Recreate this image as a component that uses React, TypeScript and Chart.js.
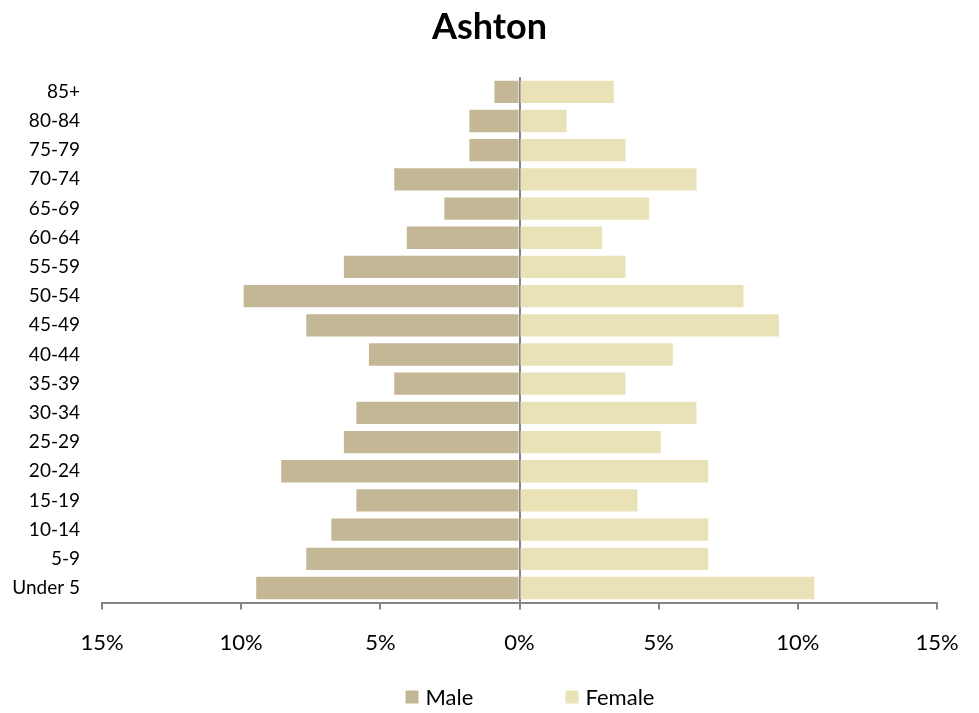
import React, { useEffect, useRef } from "react";
import { Chart, registerables } from "chart.js";

Chart.register(...registerables);

const TITLE = "Ashton";
const AGE_GROUPS = ["85+", "80-84", "75-79", "70-74", "65-69", "60-64", "55-59", "50-54", "45-49", "40-44", "35-39", "30-34", "25-29", "20-24", "15-19", "10-14", "5-9", "Under 5"];
const MALE = [0.9, 1.8, 1.8, 4.5, 2.7, 4.05, 6.31, 9.91, 7.66, 5.41, 4.5, 5.86, 6.31, 8.56, 5.86, 6.76, 7.66, 9.46];
const FEMALE = [3.39, 1.69, 3.81, 6.36, 4.66, 2.97, 3.81, 8.05, 9.32, 5.51, 3.81, 6.36, 5.08, 6.78, 4.24, 6.78, 6.78, 10.59];
const X_TICKS = [-15, -10, -5, 0, 5, 10, 15];
const SERIES_NAMES = ["Male", "Female"];
const COLORS = ["#C4B795", "#E9E2B7"];
const FONT = "Lato, 'DejaVu Sans', sans-serif";

const legendPlugin = {
  id: "customLegend",
  afterDraw(chart: any) {
    const ctx = chart.ctx;
    const area = chart.chartArea;
    const cx = (area.left + area.right) / 2;
    const y = chart.height - 16;
    const offsets = [-114, 46];
    ctx.save();
    ctx.font = `22px ${FONT}`;
    ctx.textBaseline = "middle";
    ctx.textAlign = "left";
    chart.data.datasets.forEach((ds: any, i: number) => {
      const x = cx + offsets[i];
      ctx.fillStyle = ds.backgroundColor;
      ctx.fillRect(x, y - 6.5, 13, 13);
      ctx.fillStyle = "#000";
      ctx.fillText(ds.label, x + 20, y + 1);
    });
    ctx.restore();
  },
};

export default function App() {
  const ref = useRef<HTMLCanvasElement | null>(null);
  useEffect(() => {
    document.body.style.margin = "0";
    const canvas = ref.current;
    if (!canvas) return;
    const chart = new Chart(canvas, {
      type: "bar",
      data: {
        labels: AGE_GROUPS,
        datasets: [
          { label: SERIES_NAMES[0], data: MALE.map((v) => -v), backgroundColor: COLORS[0], borderWidth: 0 },
          { label: SERIES_NAMES[1], data: FEMALE, backgroundColor: COLORS[1], borderWidth: 0 },
        ],
      },
      options: {
        indexAxis: "y",
        responsive: false,
        animation: false,
        layout: { padding: { top: 0, left: 0, right: 0, bottom: 37 } },
        datasets: { bar: { barPercentage: 0.765, categoryPercentage: 1 } },
        plugins: {
          legend: { display: false },
          tooltip: { enabled: false },
          title: {
            display: true,
            text: TITLE,
            color: "#000",
            font: { family: FONT, size: 36, weight: "bold" },
            padding: { top: 6, bottom: 28 },
          },
        },
        scales: {
          x: {
            type: "linear",
            stacked: true,
            min: -15,
            max: 15,
            z: 1,
            afterBuildTicks: (scale: any) => {
              scale.ticks = X_TICKS.map((v) => ({ value: v }));
            },
            ticks: {
              color: "#000",
              font: { family: FONT, size: 22 },
              padding: 20,
              maxRotation: 0,
              callback: (v: any) => Math.abs(Number(v)) + "%",
            },
            grid: {
              drawOnChartArea: true,
              color: (c: any) => (c.tick && c.tick.value === 0 ? "#868686" : "rgba(0,0,0,0)"),
              lineWidth: 2,
              tickColor: "#868686",
              tickLength: 7,
              tickWidth: 2,
            },
            border: { display: true, color: "#868686", width: 2 },
          },
          y: {
            stacked: true,
            afterFit: (scale: any) => {
              scale.width = 102;
            },
            ticks: {
              color: "#000",
              font: { family: FONT, size: 19 },
              padding: 14,
              autoSkip: false,
            },
            grid: { display: false },
            border: { display: false },
          },
          yRight: {
            type: "category",
            position: "right",
            display: true,
            afterFit: (scale: any) => {
              scale.width = 42;
            },
            ticks: { display: false },
            grid: { display: false },
            border: { display: false },
          },
        },
      },
      plugins: [legendPlugin],
    } as any);
    return () => chart.destroy();
  }, []);
  return (
    <div style={{ width: 979, height: 713 }}>
      <canvas ref={ref} width={979} height={713} />
    </div>
  );
}
